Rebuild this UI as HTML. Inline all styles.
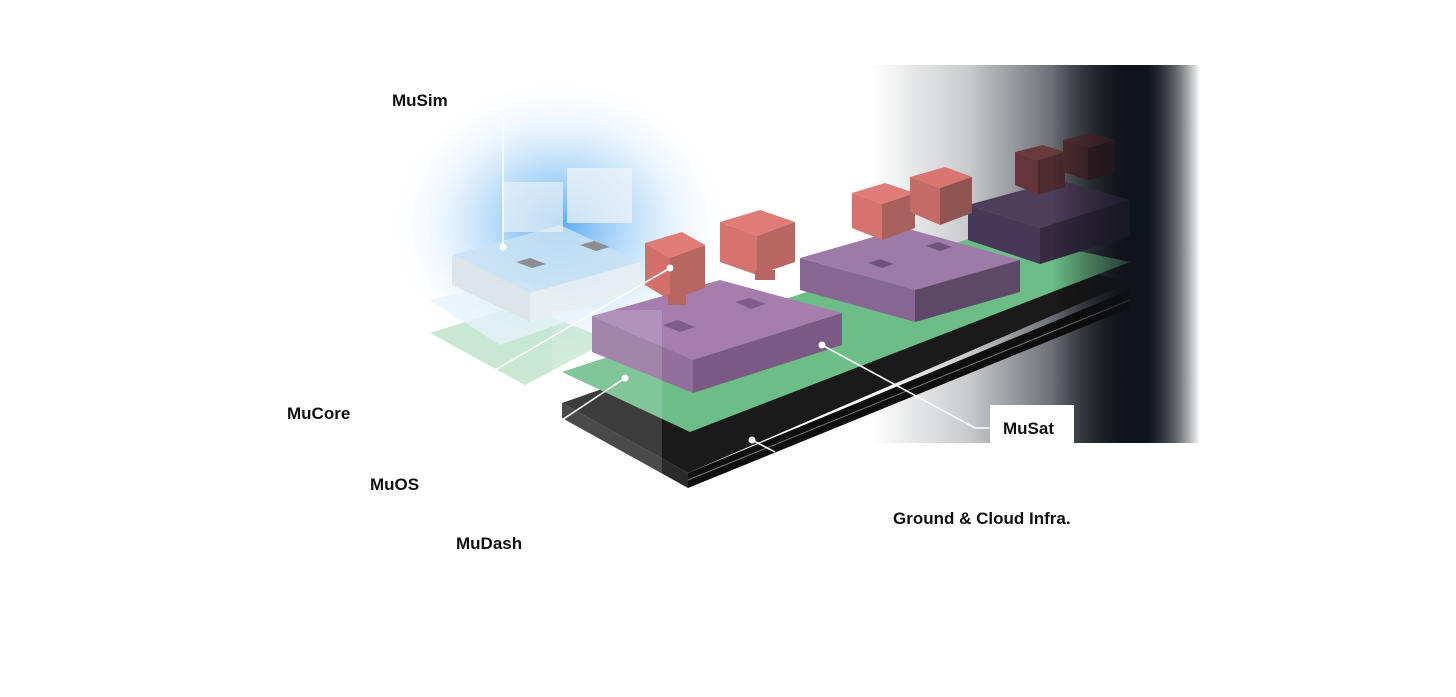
<!DOCTYPE html>
<html><head><meta charset="utf-8"><style>
html,body{margin:0;padding:0;background:#fff;}
svg{display:block;}
text{font-family:"Liberation Sans",sans-serif;font-weight:bold;font-size:17px;fill:#111;}
</style></head><body>
<svg width="1456" height="697" viewBox="0 0 1456 697" xmlns="http://www.w3.org/2000/svg">
<defs>
<linearGradient id="bg" x1="0" x2="1" y1="0" y2="0">
<stop offset="0" stop-color="#fff"/>
<stop offset="0.3" stop-color="#c8cacc"/>
<stop offset="0.6" stop-color="#5a5f66"/>
<stop offset="0.78" stop-color="#11151c"/>
<stop offset="0.84" stop-color="#0f131a"/>
<stop offset="0.93" stop-color="#8a8e92"/>
<stop offset="1" stop-color="#fff"/>
</linearGradient>
<radialGradient id="glow" cx="0.5" cy="0.5" r="0.5">
<stop offset="0" stop-color="#3d9cf0" stop-opacity="0.85"/>
<stop offset="0.45" stop-color="#8cc6f5" stop-opacity="0.5"/>
<stop offset="1" stop-color="#ffffff" stop-opacity="0"/>
</radialGradient>
<linearGradient id="fade" x1="0" x2="1">
<stop offset="0" stop-color="#fff" stop-opacity="0"/>
<stop offset="0.55" stop-color="#000" stop-opacity="0"/>
<stop offset="0.8" stop-color="#0f131a" stop-opacity="0.8"/>
<stop offset="1" stop-color="#0f131a" stop-opacity="0"/>
</linearGradient>
</defs>
<rect x="870" y="65" width="330" height="378" fill="url(#bg)"/>
<ellipse cx="560" cy="225" rx="175" ry="150" fill="url(#glow)"/>
<!-- ghost green layer -->
<polygon points="430,333 520,305 610,340 525,385" fill="#b5e0c4" opacity="0.75"/>
<polygon points="430,300 520,280 600,310 500,345" fill="#e6f3fb" opacity="0.8"/>
<!-- ghost MuSim block -->
<polygon points="452,255 560,225 640,262 530,293" fill="#c9e2f3" opacity="0.85"/>
<polygon points="452,255 530,293 530,322 452,285" fill="#dde3e8" opacity="0.9"/>
<polygon points="530,293 640,262 640,292 530,322" fill="#e8eef2" opacity="0.9"/>
<polygon points="516,262 530,258 546,264 532,268" fill="#8a8e91"/>
<polygon points="580,245 594,241 610,247 596,251" fill="#8a8e91"/>
<rect x="503" y="182" width="60" height="50" fill="#e9f1f7" opacity="0.7"/>
<rect x="567" y="168" width="65" height="55" fill="#eef3f7" opacity="0.75"/>
<!-- base slab -->
<polygon points="562,403 1000,250 1130,282 688,473" fill="#1a1a1a"/>
<polygon points="562,403 688,473 688,488 562,418" fill="#2b2b2b"/>
<polygon points="688,473 1130,290 1130,308 688,488" fill="#0e0e0e"/>
<line x1="688" y1="480" x2="1130" y2="300" stroke="#777" stroke-width="1"/>
<!-- green layer -->
<polygon points="562,372 990,232 1130,262 690,432" fill="#6cbd86"/>
<!-- purple block 3 -->
<polygon points="968,205 1060,180 1130,200 1040,228" fill="#4d3f5c"/>
<polygon points="968,205 1040,228 1040,264 968,240" fill="#463856"/>
<polygon points="1040,228 1130,200 1130,236 1040,264" fill="#352a42"/>
<!-- purple block 2 -->
<polygon points="800,258 905,228 1020,260 915,290" fill="#9d7aa8"/>
<polygon points="800,258 915,290 915,322 800,290" fill="#876693"/>
<polygon points="915,290 1020,260 1020,292 915,322" fill="#5e4868"/>
<polygon points="868,263 880,259 894,264 882,268" fill="#6e5478"/>
<polygon points="926,246 938,242 952,247 940,251" fill="#6e5478"/>
<!-- purple block 1 -->
<polygon points="592,316 720,280 842,313 693,360" fill="#a57eae"/>
<polygon points="592,316 693,360 693,393 592,352" fill="#926f9c"/>
<polygon points="693,360 842,313 842,345 693,393" fill="#7a5a84"/>
<polygon points="663,325 678,320 695,327 680,332" fill="#7e5e88"/>
<polygon points="735,302 750,298 766,304 751,309" fill="#7e5e88"/>
<rect x="552" y="310" width="110" height="180" fill="#fff" opacity="0.15"/>
<!-- red cubes block1 -->
<g><polygon points="645,243 682,232 705,245 670,258" fill="#e07c78"/><polygon points="645,243 670,258 670,300 645,285" fill="#d26f6b"/><polygon points="670,258 705,245 705,288 670,300" fill="#b86662"/><rect x="668" y="295" width="18" height="10" fill="#b86662"/></g>
<g><polygon points="720,222 760,210 795,222 757,236" fill="#e07c78"/><polygon points="720,222 757,236 757,275 720,262" fill="#d5736e"/><polygon points="757,236 795,222 795,262 757,275" fill="#b86662"/><rect x="755" y="270" width="20" height="10" fill="#b86662"/></g>
<!-- red cubes block2 -->
<g><polygon points="852,193 885,183 915,193 882,204" fill="#e07c78"/><polygon points="852,193 882,204 882,240 852,228" fill="#d5736e"/><polygon points="882,204 915,193 915,228 882,240" fill="#a8605d"/></g>
<g><polygon points="910,177 945,167 972,177 940,188" fill="#d87571"/><polygon points="910,177 940,188 940,225 910,212" fill="#c56b67"/><polygon points="940,188 972,177 972,213 940,225" fill="#8f5350"/></g>
<!-- red cubes block3 -->
<g><polygon points="1015,152 1043,145 1065,152 1038,160" fill="#6a3a3c"/><polygon points="1015,152 1038,160 1038,195 1015,185" fill="#62363a"/><polygon points="1038,160 1065,152 1065,187 1038,195" fill="#4d2c30"/></g>
<g><polygon points="1063,140 1092,133 1115,140 1088,148" fill="#5a3437"/><polygon points="1063,140 1088,148 1088,180 1063,172" fill="#532f33"/><polygon points="1088,148 1115,140 1115,172 1088,180" fill="#3f2529"/></g>
<!-- dark fade overlay -->
<rect x="870" y="65" width="330" height="378" fill="url(#fade)"/>
<!-- leaders -->
<g stroke="#fff" stroke-width="1.6" fill="none">
<polyline points="500,115 503,120 503,247"/>
<line x1="495" y1="370" x2="670" y2="268"/>
<line x1="562" y1="420" x2="625" y2="378"/>
<polyline points="822,345 975,428 992,428"/>
<line x1="752" y1="440" x2="775" y2="452"/>
</g>
<g fill="#fff"><circle cx="503" cy="247" r="3.5"/><circle cx="670" cy="268" r="3.5"/><circle cx="625" cy="378" r="3.5"/><circle cx="822" cy="345" r="3.5"/><circle cx="752" cy="440" r="3.5"/></g>
<rect x="990" y="405" width="84" height="40" fill="#fff"/>
<text x="392" y="106">MuSim</text>
<text x="287" y="419">MuCore</text>
<text x="370" y="490">MuOS</text>
<text x="456" y="549">MuDash</text>
<text x="1003" y="434">MuSat</text>
<text x="893" y="524">Ground &amp; Cloud Infra.</text>
</svg>
</body></html>
